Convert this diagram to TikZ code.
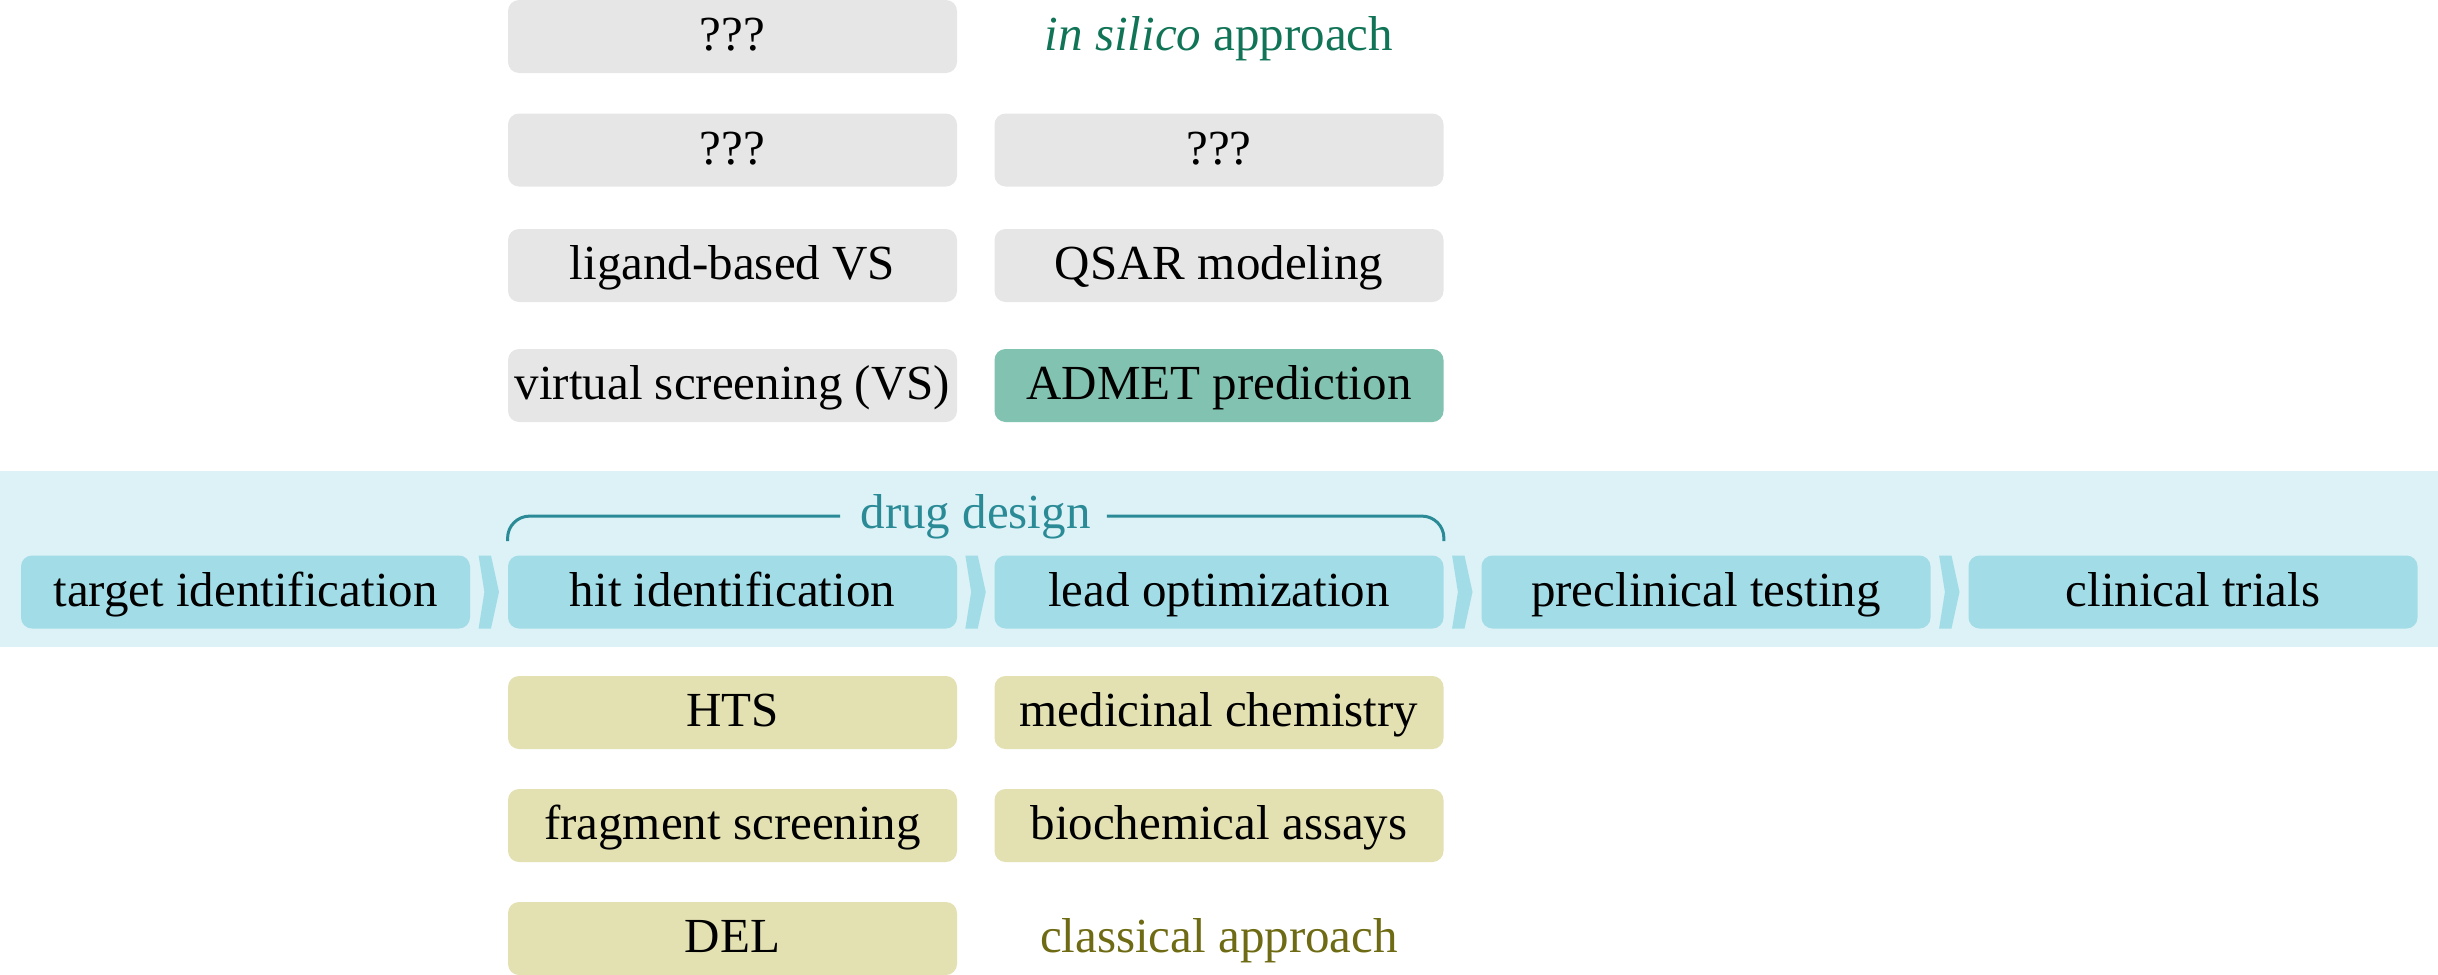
\documentclass[tikz,border=0pt]{standalone}
\usepackage{fontspec}
\setmainfont{Liberation Serif}
\usetikzlibrary{calc}
\definecolor{bandc}{HTML}{DCF2F7}
\definecolor{mainc}{HTML}{A2DDE7}
\definecolor{grayc}{HTML}{E6E6E6}
\definecolor{greenc}{HTML}{82C2B0}
\definecolor{olivec}{HTML}{E3E0B2}
\definecolor{silicot}{HTML}{117457}
\definecolor{classt}{HTML}{6E6B14}
\definecolor{drugt}{HTML}{2A8B97}
\tikzset{
  box/.style={rounded corners=5.5pt, minimum width=224.5pt, minimum height=36.5pt,
    inner sep=0pt, text height=20pt, text depth=6pt,
    font=\fontsize{24.5pt}{29pt}\selectfont, text=black},
  mainbox/.style={box, fill=mainc},
  graybox/.style={box, fill=grayc},
  greenbox/.style={box, fill=greenc},
  olivebox/.style={box, fill=olivec},
  labeltext/.style={box},
  chev/.style={fill=mainc},
  brace/.style={draw=drugt, line width=1.5pt, rounded corners=11pt},
}
\begin{document}
\begin{tikzpicture}[x=0.5pt,y=-0.5pt]
\useasboundingbox (0,0) rectangle (2438,975);
% band
\fill[bandc] (0,471) rectangle (2438,647);
% main row
\node[mainbox] (t1) at (245.5,592) {target identification};
\node[mainbox] (t2) at (732.5,592) {hit identification};
\node[mainbox] (t3) at (1219,592) {lead optimization};
\node[mainbox] (t4) at (1706,592) {preclinical testing};
\node[mainbox] (t5) at (2193,592) {clinical trials};
\foreach \a/\b in {t1/t2,t2/t3,t3/t4,t4/t5}{
  \coordinate (c) at ($(\a.east)!0.5!(\b.west)$);
  \fill[chev] ($(c)+(-5.2pt,18.25pt)$) -- ($(c)+(1pt,18.25pt)$) -- ($(c)+(5pt,0pt)$)
    -- ($(c)+(1pt,-18.25pt)$) -- ($(c)+(-5.2pt,-18.25pt)$) -- ($(c)+(-2.3pt,0pt)$) -- cycle;
}
% drug design brace
\node[font=\fontsize{24.5pt}{29pt}\selectfont, text=drugt, inner sep=0pt, anchor=base] (dd) at (975.5,528) {drug design};
\coordinate (bl) at ([yshift=19.5pt]t2.north west);
\coordinate (br) at ([yshift=19.5pt]t3.north east);
\draw[brace] ([yshift=7pt]t2.north west) -- (bl) -- ($(bl -| dd.west)+(-10pt,0pt)$);
\draw[brace] ($(br -| dd.east)+(8pt,0pt)$) -- (br) -- ([yshift=7pt]t3.north east);
% in silico rows
\node[graybox] (a1) at (732.5,36.5) {???};
\node[labeltext, text=silicot] (a2) at (1219,36.5) {\textit{in silico} approach};
\node[graybox] (b1) at (732.5,150) {???};
\node[graybox] (b2) at (1219,150) {???};
\node[graybox] (c1) at (732.5,265.5) {ligand-based VS};
\node[graybox] (c2) at (1219,265.5) {QSAR modeling};
\node[graybox] (d1) at (732.5,385.5) {virtual screening (VS)};
\node[greenbox] (d2) at (1219,385.5) {ADMET prediction};
% classical rows
\node[olivebox] (e1) at (732.5,712.5) {HTS};
\node[olivebox] (e2) at (1219,712.5) {medicinal chemistry};
\node[olivebox] (f1) at (732.5,825.5) {fragment screening};
\node[olivebox] (f2) at (1219,825.5) {biochemical assays};
\node[olivebox] (g1) at (732.5,938.5) {DEL};
\node[labeltext, text=classt] (g2) at (1219,938.5) {classical approach};
\end{tikzpicture}
\end{document}
